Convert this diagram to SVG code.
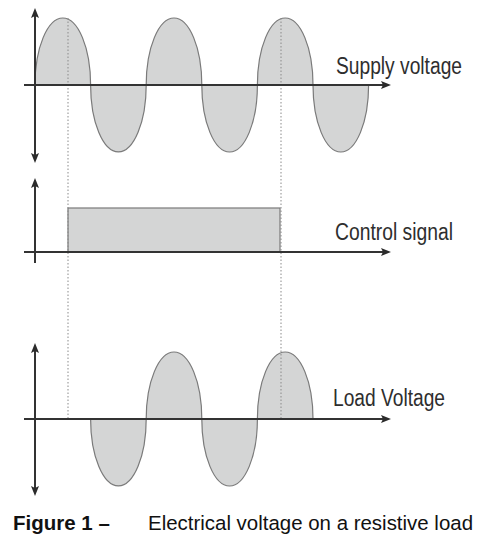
<svg xmlns="http://www.w3.org/2000/svg" width="493" height="544" viewBox="0 0 493 544">
<defs>
<marker id="ah" viewBox="0 0 10 8" refX="7" refY="4" markerWidth="10" markerHeight="8" markerUnits="userSpaceOnUse" orient="auto-start-reverse">
<path d="M0,0 L10,4 L0,8 L2,4 z" fill="#2b2b2b"/>
</marker>
<style>
.wave{fill:#d4d5d5;stroke:#7a7a7a;stroke-width:1.2}
.dot{stroke:#8a8a8a;stroke-width:1;stroke-dasharray:1.5 2;fill:none}
.axis{stroke:#333;stroke-width:2;fill:none}
.lbl{font-family:"Liberation Sans",Arial,sans-serif;font-size:23px;fill:#2e2e2e}
.cap{font-family:"Liberation Sans",Arial,sans-serif;font-size:20.5px;fill:#111}
</style>
</defs>
<rect width="493" height="544" fill="#fff"/>
<g id="supply">
<path class="wave" d="M35,85 A27.8,67 0 0 1 90.6,85 A27.8,67 0 0 0 146.2,85 A27.8,67 0 0 1 201.8,85 A27.8,67 0 0 0 257.4,85 A27.8,67 0 0 1 313,85 A27.8,67 0 0 0 368.6,85 Z"/>
<text class="lbl" x="336" y="74" textLength="126" lengthAdjust="spacingAndGlyphs">Supply voltage</text>
</g>
<g id="control">
<rect class="wave" x="68" y="208" width="212" height="44"/>
<text class="lbl" x="335" y="240" font-size="21.5" textLength="118" lengthAdjust="spacingAndGlyphs">Control signal</text>
</g>
<g id="load">
<path class="wave" d="M90.6,419 A27.8,67 0 0 0 146.2,419 A27.8,67 0 0 1 201.8,419 A27.8,67 0 0 0 257.4,419 A27.8,67 0 0 1 313,419 Z"/>
<text class="lbl" x="333" y="406" textLength="112" lengthAdjust="spacingAndGlyphs">Load Voltage</text>
</g>
<g id="connectors">
<line class="dot" x1="68" y1="18" x2="68" y2="419"/>
<line class="dot" x1="281" y1="18" x2="281" y2="419"/>
<line class="axis" x1="35" y1="160" x2="35" y2="11" marker-start="url(#ah)" marker-end="url(#ah)"/>
<line class="axis" x1="24" y1="85" x2="388" y2="85" marker-end="url(#ah)"/>
<line class="axis" x1="35" y1="263" x2="35" y2="181" marker-end="url(#ah)"/>
<line class="axis" x1="24" y1="252" x2="388" y2="252" marker-end="url(#ah)"/>
<line class="axis" x1="35" y1="493" x2="35" y2="346" marker-start="url(#ah)" marker-end="url(#ah)"/>
<line class="axis" x1="24" y1="419" x2="388" y2="419" marker-end="url(#ah)"/>
</g>
<g id="caption">
<text class="cap" x="13" y="530" font-weight="bold">Figure 1 –</text>
<text class="cap" x="148" y="530" textLength="325" lengthAdjust="spacingAndGlyphs">Electrical voltage on a resistive load</text>
</g>
</svg>
